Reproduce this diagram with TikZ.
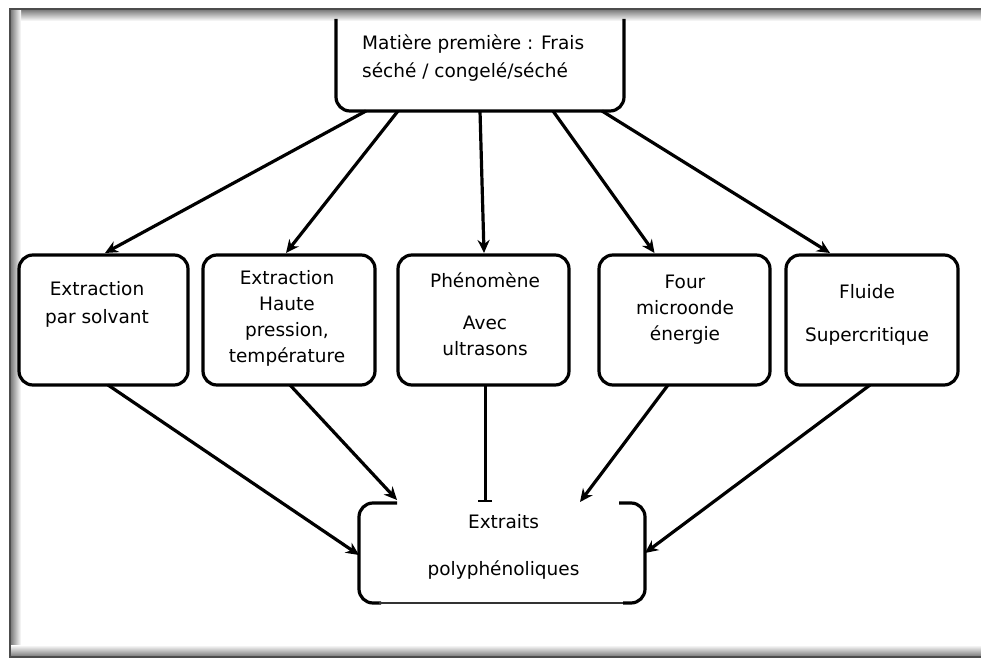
\documentclass[tikz,border=0pt]{standalone}
\usepackage{fontspec}
\setmainfont{DejaVu Sans}
\usetikzlibrary{arrows.meta,calc}
\begin{document}
\begin{tikzpicture}[x=1pt,y=-1pt,
  box/.style={draw=black, line width=3.2pt, rounded corners=14pt, outer sep=0pt, inner sep=0pt},
  openbox/.style={outer sep=0pt, inner sep=0pt},
  edge/.style={draw=black, line width=3.2pt, rounded corners=14pt},
  thinedge/.style={draw=black!80, line width=1.2pt},
  lbl/.style={inner sep=0pt, align=center, font=\fontsize{18.5}{26}\selectfont, text=black},
  arr/.style={line width=3.2pt, -{Stealth[length=13pt,width=12pt]}},
  tee/.style={line width=3pt, -{Bar[width=14pt,line width=1.8pt]}}]
\useasboundingbox (0,0) rectangle (981,660);
\fill[white] (0,0) rectangle (981,660);
% frame with inner shadow
\shade[top color=black!55, bottom color=white] (10,9) rectangle (981,21);
\shade[left color=black!55, right color=white] (10,9) rectangle (21,657);
\shade[top color=white, bottom color=black!55] (10,645) rectangle (981,657);
\draw[black!70, line width=1.5pt] (981,9) -- (10,9) -- (10,657) -- (981,657);

% boxes
\node[openbox, minimum width=288pt, minimum height=92pt] (top) at (480,65) {};
\draw[edge] (top.north west) -- (top.south west) -- (top.south east) -- (top.north east);
\node[box, minimum width=169pt, minimum height=130pt] (b1) at (103.5,320) {};
\node[box, minimum width=172pt, minimum height=130pt] (b2) at (289,320) {};
\node[box, minimum width=171pt, minimum height=130pt] (b3) at (483.5,320) {};
\node[box, minimum width=171pt, minimum height=130pt] (b4) at (684.5,320) {};
\node[box, minimum width=172pt, minimum height=130pt] (b5) at (872,320) {};
\node[openbox, minimum width=286pt, minimum height=100pt] (bot) at (502,553) {};
\draw[edge] ([xshift=38pt]bot.north west) -- (bot.north west) -- (bot.south west) -- ([xshift=22pt]bot.south west);
\draw[thinedge] ([xshift=20pt]bot.south west) -- ([xshift=-20pt]bot.south east);
\draw[edge] ([xshift=-22pt]bot.south east) -- (bot.south east) -- (bot.north east) -- ([xshift=-26pt]bot.north east);

% labels
\node[lbl, align=left, anchor=west, font=\fontsize{18.5}{28}\selectfont] (ltop) at (362,58) {Matière première : Frais\\séché / congelé/séché};
\node[lbl, font=\fontsize{18.5}{28}\selectfont] (l1) at (97,304) {Extraction\\par solvant};
\node[lbl] (l2) at (287,318.5) {Extraction\\Haute\\pression,\\température};
\node[lbl] (l3) at (485,314) {Phénomène\\[16pt]Avec\\ultrasons};
\node[lbl] (l4) at (685,309.5) {Four\\microonde\\énergie};
\node[lbl] (l5) at (867,314.5) {Fluide\\[17pt]Supercritique};
\node[lbl] (lbot) at (503.5,546.5) {Extraits\\[21pt]polyphénoliques};

% arrows from top
\draw[arr] ([xshift=-114pt]top.south) -- ([xshift=1.5pt,yshift=2pt]b1.north);
\draw[arr] ([xshift=-82pt]top.south) -- ([xshift=-3pt,yshift=2pt]b2.north);
\draw[arr] ([xshift=0pt]top.south) -- ([xshift=0.5pt,yshift=2pt]b3.north);
\draw[arr] ([xshift=73pt]top.south) -- ([xshift=-30pt,yshift=2pt]b4.north);
\draw[arr] ([xshift=122pt]top.south) -- ([xshift=-42pt,yshift=2pt]b5.north);

% arrows to bottom
\draw[arr] ([xshift=4.5pt]b1.south) -- ([yshift=-2pt]bot.west);
\draw[arr] ([xshift=1pt]b2.south) -- ([xshift=-105pt,yshift=3pt]bot.north);
\draw[tee] ([xshift=1.5pt]b3.south) -- ([xshift=-17pt,yshift=1pt]bot.north);
\draw[arr] ([xshift=-16.5pt]b4.south) -- ([xshift=78pt,yshift=1pt]bot.north);
\draw[arr] ([xshift=-2pt]b5.south) -- ([yshift=0pt]bot.east);
\end{tikzpicture}
\end{document}
